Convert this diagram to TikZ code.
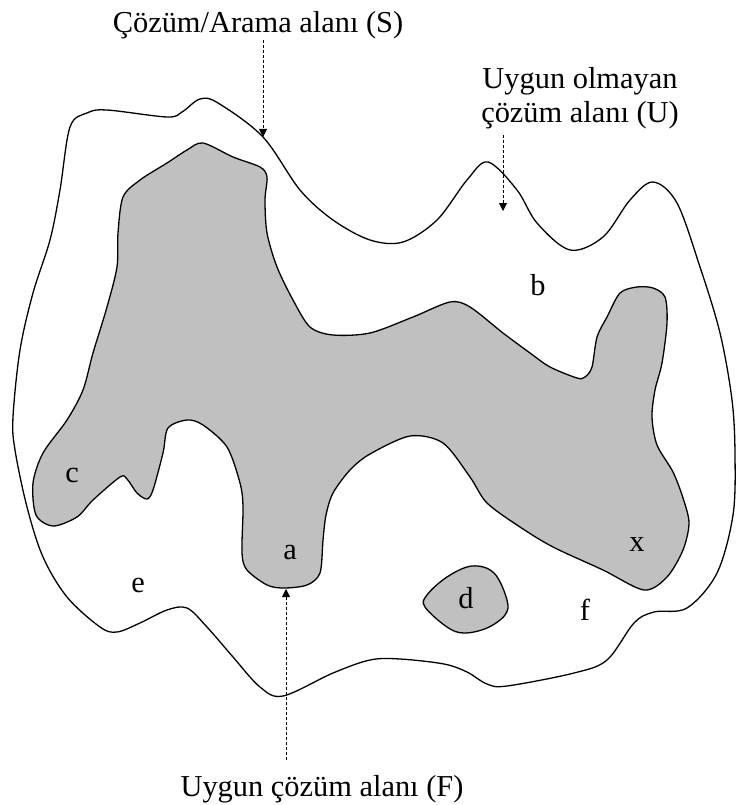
\documentclass[tikz,border=0pt]{standalone}
\usepackage{fontspec}
\setmainfont{Liberation Serif}
\usetikzlibrary{arrows.meta}
\definecolor{feasgray}{HTML}{C0C0C0}
\begin{document}
\begin{tikzpicture}[x=1pt,y=-1pt,
  region/.style={line width=1.3pt,line join=round},
  feas/.style={region,fill=feasgray},
  lbl/.style={font=\fontsize{30.4}{36}\selectfont,inner sep=0pt},
  pointer/.style={line width=0.8pt,dash pattern=on 3pt off 2pt,
    -{Triangle[length=8pt,width=8pt]}}]
\useasboundingbox (0,0) rectangle (737,805);
% outer search space S
\draw[region] plot[smooth cycle,tension=0.55] coordinates {
 (107,110) (167,117) (182,112) (200,99) (218,103) (263,137) (300,190)
 (333,220) (370,240) (403,242) (437,220) (467,180) (488,162) (517,190)
 (537,223) (570,250) (603,237) (630,200) (653,182) (677,203) (700,267)
 (720,333) (732,400) (735,455) (733,515) (717,573) (687,608) (654,612)
 (634,623) (607,660) (574,673) (507,686) (487,684) (467,672) (444,664)
 (400,659) (370,660) (333,673) (283,696) (260,687) (233,657) (207,627)
 (187,608) (167,610) (140,623) (117,632) (100,627) (67,597) (43,557)
 (27,507) (15,450) (13,417) (20,350) (33,293) (50,240) (60,190)
 (70,127) (87,113)};
% feasible region F
\draw[feas] plot[smooth cycle,tension=0.5] coordinates {
 (203,143) (187,150) (167,163) (140,180) (123,197) (118,233) (117,267)
 (107,307) (93,353) (83,390) (67,420) (43,453) (33,483) (36,515)
 (53,526) (77,517) (93,500) (120,477) (127,479) (137,493) (147,499)
 (153,490) (163,453) (168,428) (187,420) (203,425) (227,447) (240,483)
 (243,507) (242,553) (247,570) (267,585) (284,588) (307,585) (320,573)
 (323,540) (326,515) (333,493) (350,470) (370,454) (410,436) (443,443)
 (470,477) (487,503) (520,527) (553,547) (603,570) (644,590) (667,577)
 (683,550) (689,523) (683,498) (673,472) (657,445) (652,417) (655,390)
 (662,363) (667,323) (665,297) (653,288) (637,287) (620,293) (607,317)
 (597,337) (592,367) (585,377) (577,378) (550,367) (530,353) (503,333)
 (470,307) (450,302) (413,317) (370,333) (333,335) (310,327) (293,300)
 (277,267) (267,233) (265,200) (267,177) (260,167) (233,157)};
% small feasible region d
\draw[feas] plot[smooth cycle,tension=0.6] coordinates {
 (472,566) (494,573) (507,600) (505,615) (487,628) (464,633) (447,627)
 (425,607) (427,595) (447,577)};
% point labels
\node[lbl] (b) at (538,285) {b};
\node[lbl] (x) at (637,545) {x};
\node[lbl] (c) at (72,475) {c};
\node[lbl] (a) at (290,553) {a};
\node[lbl] (e) at (138,585) {e};
\node[lbl] (d) at (466,598) {d};
\node[lbl] (f) at (585,610) {f};
% captions
\node[lbl,anchor=base] (S) at (258,33) {Çözüm/Arama alanı (S)};
\node[lbl,anchor=base,align=center] (U) at (580,123) {Uygun olmayan\\[-1.5pt]çözüm alanı (U)};
\node[lbl,anchor=base] (F) at (322,796) {Uygun çözüm alanı (F)};
% pointer arrows
\coordinate (Sfrom) at (263,40);
\coordinate (Sto) at (263,137);
\coordinate (Ufrom) at (503,135);
\coordinate (Uto) at (503,211);
\coordinate (Ffrom) at (286,760);
\coordinate (Fto) at (286,589);
\draw[pointer] (Sfrom) -- (Sto);
\draw[pointer] (Ufrom) -- (Uto);
\draw[pointer] (Ffrom) -- (Fto);
\end{tikzpicture}
\end{document}
